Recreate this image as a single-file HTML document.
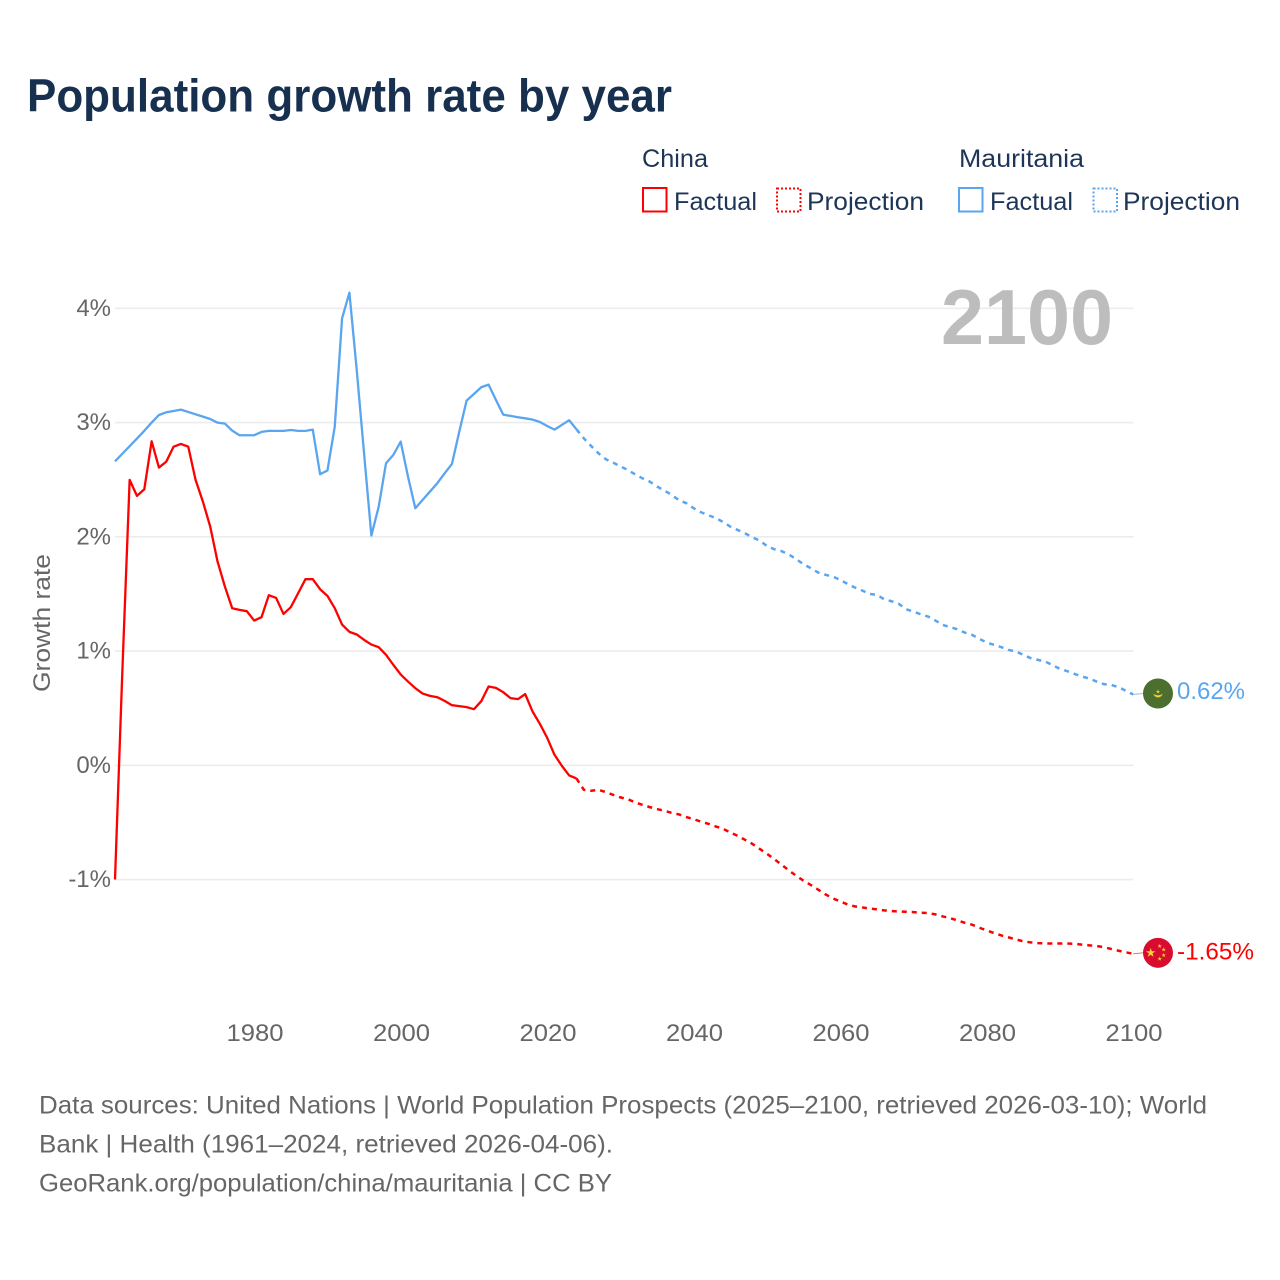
<!DOCTYPE html>
<html lang="en">
<head>
<meta charset="utf-8">
<title>Population growth rate by year</title>
<style>
  html, body { margin: 0; padding: 0; background: #fff; }
  svg { display: block; font-family: "Liberation Sans", sans-serif; }
</style>
</head>
<body>
<svg id="chart" xmlns="http://www.w3.org/2000/svg" width="1280" height="1280" viewBox="0 0 1280 1280">
  <rect x="0" y="0" width="1280" height="1280" fill="#ffffff"/>
  <text x="27" y="111.5" font-size="46" font-weight="700" fill="#18304f" textLength="645" lengthAdjust="spacingAndGlyphs">Population growth rate by year</text>

  <g font-size="25" fill="#1d3557">
    <text x="642" y="167" textLength="66" lengthAdjust="spacingAndGlyphs">China</text>
    <rect x="643" y="188" width="23.5" height="23.5" fill="none" stroke="#ff0000" stroke-width="2"/>
    <text x="674" y="210" textLength="83" lengthAdjust="spacingAndGlyphs">Factual</text>
    <rect x="777" y="188.5" width="23.5" height="23" fill="none" stroke="#ff0000" stroke-width="2" stroke-dasharray="2,2"/>
    <text x="807" y="210" textLength="117" lengthAdjust="spacingAndGlyphs">Projection</text>
    <text x="959" y="167" textLength="125" lengthAdjust="spacingAndGlyphs">Mauritania</text>
    <rect x="959" y="188" width="23.5" height="23.5" fill="none" stroke="#5aa5ef" stroke-width="2"/>
    <text x="990" y="210" textLength="83" lengthAdjust="spacingAndGlyphs">Factual</text>
    <rect x="1093.5" y="188.5" width="23.5" height="23" fill="none" stroke="#5aa5ef" stroke-width="2" stroke-dasharray="2,2"/>
    <text x="1123" y="210" textLength="117" lengthAdjust="spacingAndGlyphs">Projection</text>
  </g>

  <g id="grid"></g>
  <g id="y-ticks"></g>
  <g id="x-ticks"></g>

  <text transform="translate(50,692) rotate(-90)" x="0" y="0" font-size="24" fill="#666666" textLength="138" lengthAdjust="spacingAndGlyphs">Growth rate</text>

  <text x="941" y="344" font-size="78" font-weight="700" fill="#bdbdbd" textLength="172" lengthAdjust="spacingAndGlyphs">2100</text>

  <g id="series"></g>

  <g id="flag-mauritania">
    <circle cx="0" cy="0" r="15" fill="#4c6f2f"/>
    <path d="M-4.7,0.2 A4.8,4.8 0 0 0 4.7,0.2 A7.5,7.5 0 0 1 -4.7,0.2 Z" fill="#f5cf35"/>
    <polygon transform="translate(0,-1.8) scale(0.45)" points="0,-5 1.12,-1.55 4.76,-1.55 1.82,0.59 2.94,4.05 0,1.91 -2.94,4.05 -1.82,0.59 -4.76,-1.55 -1.12,-1.55" fill="#f5cf35"/>
  </g>
  <g id="flag-china">
    <circle cx="0" cy="0" r="15" fill="#d80c2e"/>
    <polygon transform="translate(-7.3,0)" points="0,-5 1.12,-1.55 4.76,-1.55 1.82,0.59 2.94,4.05 0,1.91 -2.94,4.05 -1.82,0.59 -4.76,-1.55 -1.12,-1.55" fill="#fcd03a"/>
    <polygon transform="translate(1.7,-6.7) scale(0.46)" points="0,-5 1.12,-1.55 4.76,-1.55 1.82,0.59 2.94,4.05 0,1.91 -2.94,4.05 -1.82,0.59 -4.76,-1.55 -1.12,-1.55" fill="#fcd03a"/>
    <polygon transform="translate(5.7,-3.2) scale(0.46)" points="0,-5 1.12,-1.55 4.76,-1.55 1.82,0.59 2.94,4.05 0,1.91 -2.94,4.05 -1.82,0.59 -4.76,-1.55 -1.12,-1.55" fill="#fcd03a"/>
    <polygon transform="translate(5.7,2.4) scale(0.46)" points="0,-5 1.12,-1.55 4.76,-1.55 1.82,0.59 2.94,4.05 0,1.91 -2.94,4.05 -1.82,0.59 -4.76,-1.55 -1.12,-1.55" fill="#fcd03a"/>
    <polygon transform="translate(1.7,6) scale(0.46)" points="0,-5 1.12,-1.55 4.76,-1.55 1.82,0.59 2.94,4.05 0,1.91 -2.94,4.05 -1.82,0.59 -4.76,-1.55 -1.12,-1.55" fill="#fcd03a"/>
  </g>
  <text id="label-mauritania" x="1177" font-size="24" fill="#5aa5ef" textLength="68" lengthAdjust="spacingAndGlyphs"></text>
  <text id="label-china" x="1177" font-size="24" fill="#ff0000" textLength="77" lengthAdjust="spacingAndGlyphs"></text>

  <g font-size="25" fill="#666666">
    <text x="39" y="1113.5" textLength="1168" lengthAdjust="spacingAndGlyphs">Data sources: United Nations | World Population Prospects (2025–2100, retrieved 2026-03-10); World</text>
    <text x="39" y="1152.5" textLength="574" lengthAdjust="spacingAndGlyphs">Bank | Health (1961–2024, retrieved 2026-04-06).</text>
    <text x="39" y="1191.5" textLength="573" lengthAdjust="spacingAndGlyphs">GeoRank.org/population/china/mauritania | CC BY</text>
  </g>
</svg>

<script>
const factualStartYear = 1961;
const projectionStartYear = 2024;
const xTickYears = [1980, 2000, 2020, 2040, 2060, 2080, 2100];
const yTickValues = [4, 3, 2, 1, 0, -1];
const yTickLabels = ["4%", "3%", "2%", "1%", "0%", "-1%"];

const chinaFactual = [
  -1.0, 0.82, 2.498, 2.358, 2.416, 2.836, 2.606, 2.658, 2.789, 2.813,
  2.789, 2.498, 2.308, 2.089, 1.783, 1.565, 1.375, 1.36, 1.349, 1.267,
  1.296, 1.489, 1.465, 1.325, 1.384, 1.506, 1.629, 1.629, 1.541, 1.483,
  1.375, 1.232, 1.168, 1.145, 1.098, 1.057, 1.034, 0.967, 0.879, 0.795,
  0.733, 0.675, 0.628, 0.608, 0.596, 0.564, 0.526, 0.518, 0.509, 0.491,
  0.561, 0.69, 0.678, 0.64, 0.588, 0.579, 0.623, 0.471, 0.363, 0.241,
  0.092, -0.004, -0.089, -0.115
];
const chinaProjection = [
  -0.115, -0.214, -0.223, -0.214, -0.235, -0.258, -0.281, -0.296, -0.325, -0.346,
  -0.366, -0.383, -0.398, -0.416, -0.43, -0.453, -0.471, -0.494, -0.512, -0.535,
  -0.556, -0.588, -0.617, -0.652, -0.687, -0.731, -0.774, -0.821, -0.87, -0.92,
  -0.967, -1.01, -1.048, -1.089, -1.13, -1.165, -1.191, -1.218, -1.235, -1.244,
  -1.253, -1.261, -1.27, -1.276, -1.279, -1.282, -1.285, -1.29, -1.293, -1.305,
  -1.323, -1.337, -1.358, -1.378, -1.395, -1.422, -1.445, -1.468, -1.489, -1.506,
  -1.524, -1.541, -1.55, -1.556, -1.559, -1.56, -1.56, -1.56, -1.562, -1.57,
  -1.576, -1.582, -1.591, -1.608, -1.623, -1.637, -1.65
];
const mauritaniaFactual = [
  2.661, 2.727, 2.793, 2.86, 2.928, 3.0, 3.066, 3.09, 3.101, 3.113,
  3.093, 3.072, 3.052, 3.031, 2.999, 2.991, 2.929, 2.889, 2.889, 2.889,
  2.918, 2.927, 2.927, 2.927, 2.935, 2.927, 2.927, 2.938, 2.548, 2.58,
  2.964, 3.912, 4.137, 3.46, 2.731, 2.011, 2.264, 2.644, 2.717, 2.833,
  2.527, 2.25, 2.323, 2.396, 2.469, 2.556, 2.638, 2.921, 3.192, 3.25,
  3.309, 3.332, 3.198, 3.069, 3.058, 3.046, 3.037, 3.026, 3.005, 2.97,
  2.938, 2.979, 3.02, 2.941
];
const mauritaniaProjection = [
  2.941, 2.862, 2.795, 2.731, 2.679, 2.649, 2.617, 2.585, 2.547, 2.512,
  2.483, 2.44, 2.405, 2.367, 2.32, 2.294, 2.25, 2.215, 2.189, 2.165,
  2.13, 2.089, 2.06, 2.031, 1.996, 1.967, 1.92, 1.891, 1.874, 1.845,
  1.804, 1.76, 1.725, 1.687, 1.667, 1.652, 1.623, 1.588, 1.556, 1.53,
  1.5, 1.492, 1.454, 1.436, 1.413, 1.366, 1.345, 1.322, 1.302, 1.267,
  1.229, 1.209, 1.191, 1.162, 1.142, 1.107, 1.075, 1.054, 1.034, 1.01,
  0.996, 0.967, 0.938, 0.923, 0.908, 0.876, 0.844, 0.824, 0.8, 0.777,
  0.76, 0.733, 0.71, 0.704, 0.684, 0.652, 0.62
];

const SVG_NS = "http://www.w3.org/2000/svg";
function xScale(year) { return 115 + (year - 1961) * 7.325; }
function yScale(value) { return 765.3 - value * 114.25; }
function linePoints(values, startYear) {
  return values.map(function (v, i) {
    return xScale(startYear + i).toFixed(2) + "," + yScale(v).toFixed(2);
  }).join(" ");
}

const gridGroup = document.getElementById("grid");
const yTickGroup = document.getElementById("y-ticks");
yTickValues.forEach(function (v, i) {
  const line = document.createElementNS(SVG_NS, "line");
  
  
  line.setAttribute("x1", 115);
  line.setAttribute("x2", 1133.5);
  line.setAttribute("y1", yScale(v));
  line.setAttribute("y2", yScale(v));
  line.setAttribute("stroke", "#ececec");
  line.setAttribute("stroke-width", "1.6");
  gridGroup.appendChild(line);

  const label = document.createElementNS(SVG_NS, "text");
  
  
  label.setAttribute("x", 111);
  label.setAttribute("y", yScale(v) + 7.5);
  label.setAttribute("text-anchor", "end");
  label.setAttribute("font-size", "24");
  label.setAttribute("fill", "#666666");
  label.textContent = yTickLabels[i];
  yTickGroup.appendChild(label);
});

const xTickGroup = document.getElementById("x-ticks");
xTickYears.forEach(function (year) {
  const label = document.createElementNS(SVG_NS, "text");
  
  
  label.setAttribute("x", xScale(year) + 0.8);
  label.setAttribute("y", 1041);
  label.setAttribute("text-anchor", "middle");
  label.setAttribute("font-size", "24");
  label.setAttribute("fill", "#666666");
  label.setAttribute("textLength", "57");
  label.setAttribute("lengthAdjust", "spacingAndGlyphs");
  label.textContent = String(year);
  xTickGroup.appendChild(label);
});

const seriesGroup = document.getElementById("series");

const chinaFactualLine = document.createElementNS(SVG_NS, "polyline");


chinaFactualLine.setAttribute("points", linePoints(chinaFactual, factualStartYear));
chinaFactualLine.setAttribute("fill", "none");
chinaFactualLine.setAttribute("stroke", "#ff0000");
chinaFactualLine.setAttribute("stroke-width", "2.3");
chinaFactualLine.setAttribute("stroke-linejoin", "round");
seriesGroup.appendChild(chinaFactualLine);

const chinaProjectionLine = document.createElementNS(SVG_NS, "polyline");


chinaProjectionLine.setAttribute("points", linePoints(chinaProjection, projectionStartYear));
chinaProjectionLine.setAttribute("fill", "none");
chinaProjectionLine.setAttribute("stroke", "#ff0000");
chinaProjectionLine.setAttribute("stroke-width", "2.5");
chinaProjectionLine.setAttribute("stroke-dasharray", "5,5");
seriesGroup.appendChild(chinaProjectionLine);

const mauritaniaFactualLine = document.createElementNS(SVG_NS, "polyline");


mauritaniaFactualLine.setAttribute("points", linePoints(mauritaniaFactual, factualStartYear));
mauritaniaFactualLine.setAttribute("fill", "none");
mauritaniaFactualLine.setAttribute("stroke", "#5aa5ef");
mauritaniaFactualLine.setAttribute("stroke-width", "2.3");
mauritaniaFactualLine.setAttribute("stroke-linejoin", "round");
seriesGroup.appendChild(mauritaniaFactualLine);

const mauritaniaProjectionLine = document.createElementNS(SVG_NS, "polyline");


mauritaniaProjectionLine.setAttribute("points", linePoints(mauritaniaProjection, projectionStartYear));
mauritaniaProjectionLine.setAttribute("fill", "none");
mauritaniaProjectionLine.setAttribute("stroke", "#5aa5ef");
mauritaniaProjectionLine.setAttribute("stroke-width", "2.5");
mauritaniaProjectionLine.setAttribute("stroke-dasharray", "5,5");
seriesGroup.appendChild(mauritaniaProjectionLine);

const chinaEnd = chinaProjection[chinaProjection.length - 1];
const mauritaniaEnd = mauritaniaProjection[mauritaniaProjection.length - 1];

const chinaConnector = document.createElementNS(SVG_NS, "line");


chinaConnector.setAttribute("x1", xScale(2100));
chinaConnector.setAttribute("x2", 1143);
chinaConnector.setAttribute("y1", yScale(chinaEnd));
chinaConnector.setAttribute("y2", yScale(chinaEnd) - 1);
chinaConnector.setAttribute("stroke", "#ff5555");
chinaConnector.setAttribute("stroke-width", "1");
seriesGroup.appendChild(chinaConnector);

const mauritaniaConnector = document.createElementNS(SVG_NS, "line");


mauritaniaConnector.setAttribute("x1", xScale(2100));
mauritaniaConnector.setAttribute("x2", 1143);
mauritaniaConnector.setAttribute("y1", yScale(mauritaniaEnd));
mauritaniaConnector.setAttribute("y2", yScale(mauritaniaEnd) - 1);
mauritaniaConnector.setAttribute("stroke", "#9cbfe0");
mauritaniaConnector.setAttribute("stroke-width", "1");
seriesGroup.appendChild(mauritaniaConnector);

document.getElementById("flag-china").setAttribute("transform", "translate(1158," + (yScale(chinaEnd) - 1) + ")");
document.getElementById("flag-mauritania").setAttribute("transform", "translate(1158," + (yScale(mauritaniaEnd) - 1) + ")");

const chinaLabel = document.getElementById("label-china");
chinaLabel.setAttribute("y", yScale(chinaEnd) + 5.5);
chinaLabel.textContent = chinaEnd.toFixed(2) + "%";

const mauritaniaLabel = document.getElementById("label-mauritania");
mauritaniaLabel.setAttribute("y", yScale(mauritaniaEnd) + 4.5);
mauritaniaLabel.textContent = mauritaniaEnd.toFixed(2) + "%";
</script>
</body>
</html>
